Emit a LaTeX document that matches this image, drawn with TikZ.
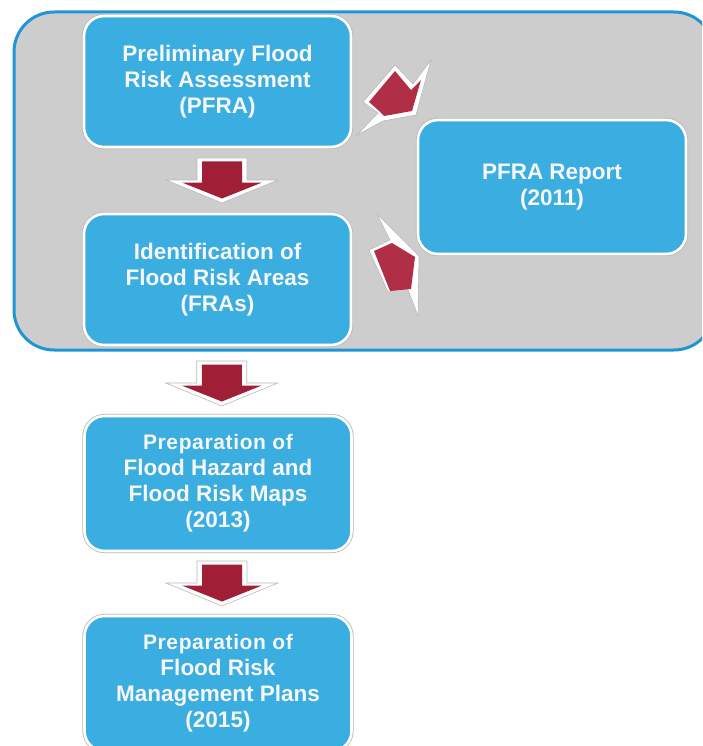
\documentclass[tikz,border=0pt]{standalone}
\usepackage{fontspec}
\setmainfont{Liberation Sans}
\usetikzlibrary{calc}
\definecolor{panelgray}{HTML}{CDCDCD}
\definecolor{panelblue}{HTML}{1E96D6}
\definecolor{boxblue}{HTML}{3BAEE1}
\definecolor{arrred}{HTML}{B02E46}
\definecolor{arrdark}{HTML}{A11F36}
\definecolor{txtwhite}{HTML}{F6F6F6}
\tikzset{
  stagebox/.style={rectangle, rounded corners=20pt, fill=boxblue, draw=white, line width=2.6pt,
    preaction={draw=gray!55, line width=4.2pt},
    minimum width=267pt, minimum height=131pt, align=center, text=txtwhite,
    font=\bfseries\fontsize{22.5}{26}\selectfont, inner sep=0pt},
  downarr/.pic={
    \filldraw[fill=white, draw=gray!55, line width=0.6pt]
      (-25,-22.5)--(25,-22.5)--(25,-0.5)--(56,-0.5)--(0,22.5)--(-56,-0.5)--(-25,-0.5)--cycle;
    \fill[arrdark] (-20,-19)--(20,-19)--(20,2)--(40,2)--(0,18)--(-40,2)--(-20,2)--cycle;
  }
}
\begin{document}
\begin{tikzpicture}[x=1pt,y=-1pt]
\clip (0,0) rectangle (702,746);
\fill[white] (0,0) rectangle (702,746);
% panel
\node[rectangle, rounded corners=40pt, fill=panelgray, draw=panelblue, line width=3pt,
  minimum width=700pt, minimum height=338pt, inner sep=0pt] (panel) at (364,181) {};
% boxes
\node[stagebox] (pfra) at (217.5,81.5) {Preliminary Flood\\Risk Assessment\\(PFRA)};
\node[stagebox] (fras) at (217.5,279.5) {Identification of\\Flood Risk Areas\\(FRAs)};
\node[stagebox, minimum width=268pt, minimum height=134pt] (report) at (552,187) {PFRA Report\\(2011)};
\node[stagebox, minimum height=135pt] (maps) at (218,483.5) {\addfontfeature{LetterSpace=3}\fontsize{21}{26}\selectfont Preparation of\\Flood Hazard and\\Flood Risk Maps\\(2013)};
\node[stagebox, minimum height=135pt] (plans) at (218,683.5) {\addfontfeature{LetterSpace=3}\fontsize{21}{26}\selectfont Preparation of\\Flood Risk\\Management Plans\\(2015)};
% down arrows
\pic[xshift=4.5pt] at ($(pfra.south)!0.5!(fras.north)$) {downarr};
\pic[xshift=4pt, yshift=-3pt] at ($(fras.south)!0.5!(maps.north)$) {downarr};
\pic[xshift=4pt] at ($(maps.south)!0.5!(plans.north)$) {downarr};
% diagonal arrows toward the report
\filldraw[fill=white, draw=gray!55, line width=0.6pt]
  (357,135)--(378,113)--(363,102)--(395,65)--(413,84)--(431,60)--(416,115)--(383,121)--cycle;
\fill[arrred] (369,102)--(395,71)--(411,90)--(421,80)--(412,111)--(384,116)--(378,110)--cycle;
\filldraw[fill=white, draw=gray!55, line width=0.6pt]
  (377,214)--(390,240)--(369,250)--(388,292)--(407,287)--(418,316)--(419,256)--cycle;
\fill[arrred] (374,251)--(392,243)--(415,257)--(411,289)--(390,291)--cycle;
\end{tikzpicture}
\end{document}
